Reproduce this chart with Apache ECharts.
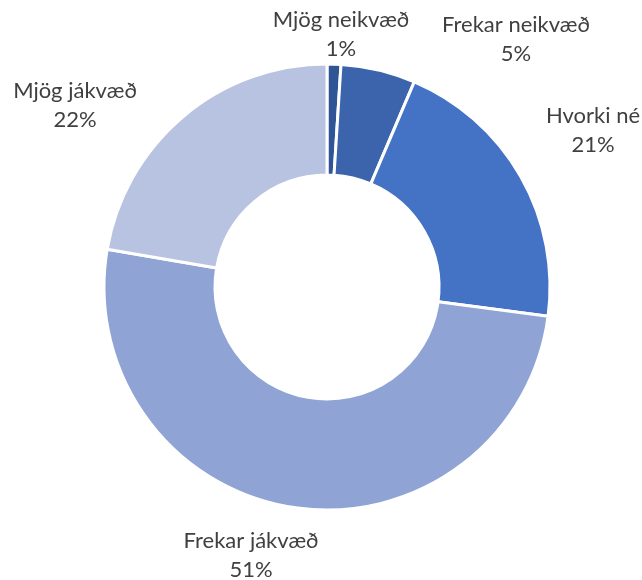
<!DOCTYPE html>
<html>
<head>
<meta charset="utf-8">
<script src="https://cdn.jsdelivr.net/npm/echarts@6/dist/echarts.min.js"></script>
<style>
  html, body { margin: 0; padding: 0; background: #ffffff; }
  #chart { width: 642px; height: 580px; }
</style>
</head>
<body>
<div id="chart"></div>
<script>
// Data
const categories = ['Mjög neikvæð', 'Frekar neikvæð', 'Hvorki né', 'Frekar jákvæð', 'Mjög jákvæð'];
const values = [1.0, 5.4, 20.7, 50.6, 22.3];

// Styling / layout
const colors = ['#2F5597', '#3B64AD', '#4472C4', '#8FA4D5', '#B8C3E2'];
const CX = 327, CY = 287;
const labelOffsets = [[14, -253], [189, -248], [266, -157], [-76, 268], [-252, -182]];

const chart = echarts.init(document.getElementById('chart'), null, { renderer: 'canvas' });
chart.setOption({
  animation: false,
  backgroundColor: '#ffffff',
  series: [{
    type: 'pie',
    center: [CX, CY],
    radius: [112, 223],
    startAngle: 90,
    clockwise: true,
    avoidLabelOverlap: false,
    silent: true,
    itemStyle: { borderColor: '#ffffff', borderWidth: 3 },
    label: {
      show: true,
      position: 'outside',
      fontFamily: 'Lato',
      fontSize: 22,
      lineHeight: 29,
      color: '#404040',
      align: 'center',
      formatter: function (p) { return p.name + '\n' + Math.round(p.percent) + '%'; }
    },
    labelLine: { show: false },
    labelLayout: function (p) {
      const o = labelOffsets[p.dataIndex];
      return { x: CX + o[0], y: CY + o[1], align: 'center', verticalAlign: 'middle', hideOverlap: false, moveOverlap: null };
    },
    data: categories.map((c, i) => ({ name: c, value: values[i], itemStyle: { color: colors[i] } }))
  }]
});
</script>
</body>
</html>
